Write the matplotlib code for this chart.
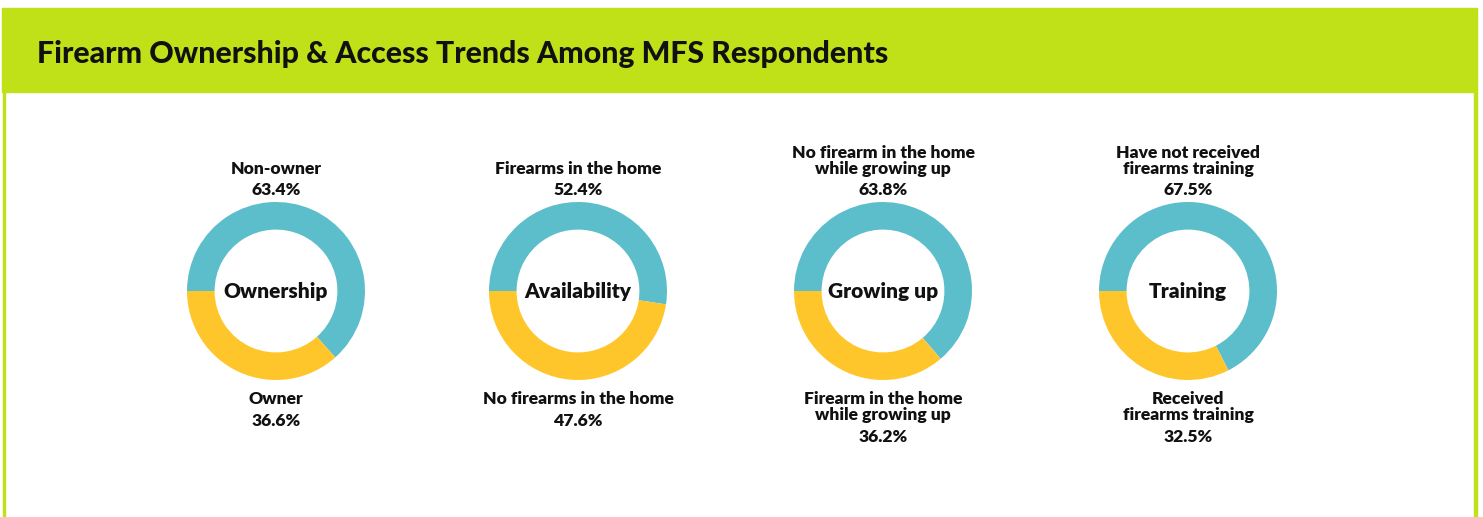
import matplotlib
matplotlib.use("Agg")
import matplotlib.pyplot as plt
from matplotlib.patches import Rectangle

# ---- data ----
categories = ["Ownership", "Availability", "Growing up", "Training"]
top_labels = ["Non-owner", "Firearms in the home",
              "No firearm in the home\nwhile growing up",
              "Have not received\nfirearms training"]
top_values = [63.4, 52.4, 63.8, 67.5]
bottom_labels = ["Owner", "No firearms in the home",
                 "Firearm in the home\nwhile growing up",
                 "Received\nfirearms training"]
bottom_values = [36.6, 47.6, 36.2, 32.5]
title = "Firearm Ownership & Access Trends Among MFS Respondents"

TEAL = "#5BBECA"
YELLOW = "#FFC62C"
GREEN = "#C0E018"
INK = "#111111"

W, H = 1483, 517
DPI = 100
fig = plt.figure(figsize=(W / DPI, H / DPI), dpi=DPI)
fig.patch.set_facecolor("white")
plt.rcParams["font.family"] = ["Lato", "DejaVu Sans"]
WT = "heavy"
LFS = 12.6


def fx(px):
    return px / W


def fy(py):  # py measured from top
    return 1 - py / H


# header band and side borders
fig.patches.append(Rectangle((fx(2), fy(92)), fx(1475), (92 - 8) / H,
                             transform=fig.transFigure, color=GREEN, zorder=0))
fig.patches.append(Rectangle((fx(2.5), 0), fx(2.5), fy(92),
                             transform=fig.transFigure, color=GREEN, zorder=0))
fig.patches.append(Rectangle((fx(1474), 0), fx(3), fy(92),
                             transform=fig.transFigure, color=GREEN, zorder=0))
fig.text(fx(37), fy(63), title, fontsize=21.8, fontweight="black", color=INK,
         ha="left", va="baseline")

centers_x = [276, 578, 883, 1188]
cy = 291
R = 89
for i, cat in enumerate(categories):
    cx = centers_x[i]
    ax = fig.add_axes([fx(cx - R), fy(cy + R), fx(2 * R), 2 * R / H])
    ax.pie([top_values[i], bottom_values[i]], colors=[TEAL, YELLOW],
           startangle=180, counterclock=False,
           wedgeprops=dict(width=0.31, linewidth=0))
    ax.set_xlim(-1, 1)
    ax.set_ylim(-1, 1)
    ax.set_aspect("equal")
    ax.axis("off")
    ax.text(0, -0.01, cat, ha="center", va="center", fontsize=15,
            fontweight=WT, color=INK)

    # top label: pct baseline at 195, names above at 16px spacing
    names = top_labels[i].split("\n")
    fig.text(fx(cx), fy(195), f"{top_values[i]:.1f}%", ha="center",
             va="baseline", fontsize=LFS, fontweight=WT, color=INK)
    for j, nm in enumerate(reversed(names)):
        fig.text(fx(cx), fy(174 - 16 * j), nm, ha="center", va="baseline",
                 fontsize=LFS, fontweight=WT, color=INK)

    # bottom label
    names = bottom_labels[i].split("\n")
    y = 404
    for j, nm in enumerate(names):
        fig.text(fx(cx), fy(y), nm, ha="center", va="baseline",
                 fontsize=LFS, fontweight=WT, color=INK)
        if j < len(names) - 1:
            y += 16
    fig.text(fx(cx), fy(y + 22), f"{bottom_values[i]:.1f}%", ha="center",
             va="baseline", fontsize=LFS, fontweight=WT, color=INK)

fig.savefig("out.png", dpi=DPI)
